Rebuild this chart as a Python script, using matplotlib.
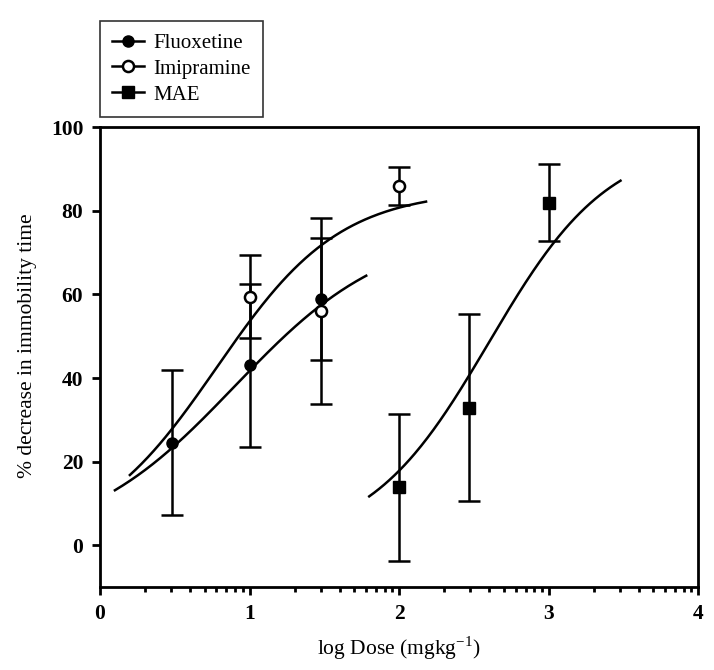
import numpy as np
import matplotlib
matplotlib.use("Agg")
import matplotlib.pyplot as plt
from matplotlib.lines import Line2D

# --- data ---
flx_dose = [0.48, 1.0, 1.48]
flx_resp = [24.5, 43.0, 59.0]
flx_err = [17.3, 19.5, 14.6]

imi_dose = [1.0, 1.48, 2.0]
imi_resp = [59.5, 56.0, 86.0]
imi_err = [10.0, 22.2, 4.6]

mae_dose = [2.0, 2.47, 3.0]
mae_resp = [13.8, 32.9, 82.0]
mae_err = [17.6, 22.4, 9.2]

# sigmoid fits (bottom, top, logEC50, hill) and x-range of each fitted curve
flx_fit = [0.0, 76.0, 0.90, 0.85]
flx_range = [0.1, 1.78]
imi_fit = [0.0, 85.0, 0.78, 1.05]
imi_range = [0.2, 2.18]
mae_fit = [0.0, 97.0, 2.60, 1.08]
mae_range = [1.8, 3.48]


def sigmoid(x, p):
    bottom, top, ec50, hill = p
    return bottom + (top - bottom) / (1 + 10 ** ((ec50 - x) * hill))


plt.rcParams['font.family'] = ['Liberation Serif', 'DejaVu Serif']

fig = plt.figure(figsize=(7.14, 6.70), dpi=100)
ax = fig.add_axes([0.140, 0.124, 0.838, 0.686])

lw = 1.8
for rng, fit in [(flx_range, flx_fit), (imi_range, imi_fit), (mae_range, mae_fit)]:
    xs = np.linspace(rng[0], rng[1], 200)
    ax.plot(xs, sigmoid(xs, fit), color='black', lw=lw)

ebkw = dict(ecolor='black', elinewidth=lw, capsize=8, capthick=lw, ls='none')
ax.errorbar(imi_dose, imi_resp, yerr=imi_err, fmt='o', ms=8, mfc='white',
            mec='black', mew=lw, **ebkw)
ax.errorbar(flx_dose, flx_resp, yerr=flx_err, fmt='o', ms=8, mfc='black',
            mec='black', **ebkw)
ax.errorbar(mae_dose, mae_resp, yerr=mae_err, fmt='s', ms=8, mfc='black',
            mec='black', **ebkw)

ax.set_xlim(0, 4)
ax.set_ylim(-10, 100)
ax.set_xticks([0, 1, 2, 3, 4])
ax.set_xticks([k + np.log10(m) for k in range(4) for m in range(2, 10)], minor=True)
ax.set_yticks([0, 20, 40, 60, 80, 100])

for s in ax.spines.values():
    s.set_linewidth(2.0)
ax.tick_params(axis='both', which='major', direction='out', length=6, width=2,
               labelsize=15.5, pad=6)
ax.tick_params(axis='x', which='minor', direction='out', length=3.5, width=2)
for lab in ax.get_xticklabels() + ax.get_yticklabels():
    lab.set_fontweight('bold')

ax.set_xlabel('log Dose (mgkg$^{\\mathregular{-1}}$)', fontsize=15.5, labelpad=8)
ax.set_ylabel('% decrease in immobility time', fontsize=15.5)
ax.yaxis.set_label_coords(-0.105, 0.525)

handles = [
    Line2D([], [], color='black', lw=lw, marker='o', ms=8, mfc='black', mec='black'),
    Line2D([], [], color='black', lw=lw, marker='o', ms=8, mfc='white', mec='black', mew=lw),
    Line2D([], [], color='black', lw=lw, marker='s', ms=8, mfc='black', mec='black'),
]
leg = fig.legend(handles, ['Fluoxetine', 'Imipramine', 'MAE'],
                 loc='upper left', bbox_to_anchor=(0.140, 0.969),
                 fontsize=15, frameon=True, fancybox=False,
                 handlelength=1.5, labelspacing=0.3, borderaxespad=0,
                 borderpad=0.6, handletextpad=0.45)
leg.get_frame().set_edgecolor('black')
leg.get_frame().set_linewidth(1.2)

fig.savefig('out.png', dpi=100)
